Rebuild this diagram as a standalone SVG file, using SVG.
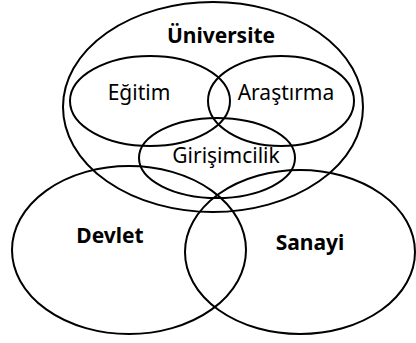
<svg xmlns="http://www.w3.org/2000/svg" width="416" height="343" viewBox="0 0 416 343">
<style>
.e{fill:none;stroke:#000;stroke-width:2}
.t{font-family:"Noto Sans","Open Sans",sans-serif;font-size:21px;fill:#000;text-anchor:middle}
.b{font-weight:bold}
</style>
<rect width="416" height="343" fill="#fff"/>
<g id="universite"><ellipse class="e" cx="213" cy="107" rx="150" ry="105"/><text class="t b" x="221" y="43">Üniversite</text></g>
<g id="egitim"><ellipse class="e" cx="150" cy="101" rx="80" ry="45"/><text class="t" x="139" y="100">Eğitim</text></g>
<g id="arastirma"><ellipse class="e" cx="281" cy="101" rx="73" ry="45"/><text class="t" x="286" y="100">Araştırma</text></g>
<g id="girisimcilik"><ellipse class="e" cx="217" cy="158" rx="78" ry="40"/><text class="t" x="226" y="163">Girişimcilik</text></g>
<g id="devlet"><ellipse class="e" cx="129" cy="250" rx="117" ry="84"/><text class="t b" x="110" y="243">Devlet</text></g>
<g id="sanayi"><ellipse class="e" cx="300" cy="252" rx="115" ry="82"/><text class="t b" x="310" y="250">Sanayi</text></g>
<g id="connectors"/>
</svg>
